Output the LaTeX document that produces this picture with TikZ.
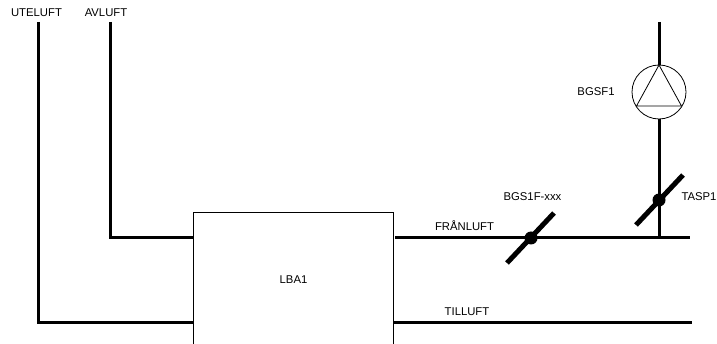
\documentclass[tikz,border=0pt]{standalone}
\usepackage{fontspec}
\setmainfont{Liberation Sans}

\begin{document}
\begin{tikzpicture}[x=1pt,y=-1pt,
		Pipe/.style = {line width=3pt,line join=miter},
		Thin/.style = {line width=0.8pt},
		Label/.style = {font=\fontsize{11.3}{13}\selectfont,inner sep=0pt},
		Blade/.style = {line width=5pt}]
	\useasboundingbox (0,0) rectangle (717,344);
	\clip (0,0) rectangle (717,344);
	% aggregat
	\node[draw,Thin,minimum width=200,minimum height=136,inner sep=0pt,Label] (LBA) at (293.5,280) {LBA1};
	\coordinate (UteTop) at (38,22);
	\coordinate (UteCorner) at (38,322.5);
	\coordinate (AvTop) at (110,22);
	\coordinate (AvCorner) at (110,238);
	\coordinate (AvEnd) at (LBA.west |- AvCorner);
	\coordinate (UteEnd) at (LBA.west |- UteCorner);
	\coordinate (FranStart) at (395,238);
	\coordinate (FranEnd) at (690,238);
	\coordinate (TillStart) at (LBA.east |- UteCorner);
	\coordinate (TillEnd) at (692,322.5);
	\coordinate (FanTop) at (659,22);
	\coordinate (Tee) at (659,238);
	% kanaler
	\draw[Pipe] (UteTop) -- (UteCorner) -- (UteEnd);
	\draw[Pipe] (AvTop) -- (AvCorner) -- (AvEnd);
	\draw[Pipe] (FranStart) -- (FranEnd);
	\draw[Pipe] (TillStart) -- (TillEnd);
	% fläkt
	\node[draw,Thin,circle,minimum size=54,inner sep=0pt] (Fan) at (659,92) {};
	\coordinate (FanA) at (659,65);
	\coordinate (FanB) at (636.5,106);
	\coordinate (FanC) at (681.5,106);
	\draw[Thin] (FanA) -- (FanB) -- (FanC) -- cycle;
	\draw[Pipe] (FanTop) -- (Fan.north);
	\draw[Pipe] (Fan.south) -- (Tee);
	% spjäll
	\node[fill=black,circle,minimum size=13,inner sep=0pt] (Damper1) at (531,238) {};
	\node[fill=black,circle,minimum size=13,inner sep=0pt] (Damper2) at (659,200) {};
	\coordinate (D1a) at (507,263);
	\coordinate (D1b) at (554,213);
	\coordinate (D2a) at (636,225);
	\coordinate (D2b) at (683,175);
	\draw[Blade] (D1a) -- (D1b);
	\draw[Blade] (D2a) -- (D2b);
	% texter
	\node[Label] (UTELUFT) at (36.5,12.5) {UTELUFT};
	\node[Label] (AVLUFT) at (106,12.5) {AVLUFT};
	\node[Label] (FRAN) at (464.5,226) {FRÅNLUFT};
	\node[Label] (TILL) at (467,312) {TILLUFT};
	\node[Label] (BGSF) at (596,92) {BGSF1};
	\node[Label] (BGS) at (532.5,197) {BGS1F-xxx};
	\node[Label] (TASP) at (699,197) {TASP1};
\end{tikzpicture}
\end{document}
